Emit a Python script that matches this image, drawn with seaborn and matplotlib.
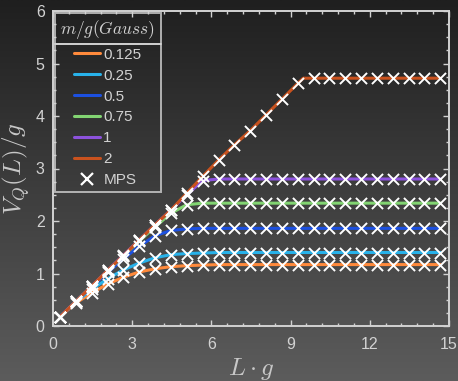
import numpy as np
import pandas as pd
import matplotlib
matplotlib.use("Agg")
import matplotlib.pyplot as plt
from matplotlib.colors import LinearSegmentedColormap
from matplotlib.lines import Line2D
from matplotlib.ticker import MultipleLocator
import seaborn as sns

# ---------------- data ----------------
L_mps = [0.27, 0.87, 1.47, 2.07, 2.67, 3.27, 3.87, 4.47, 5.07, 5.67, 6.27, 6.87,
         7.47, 8.07, 8.67, 9.27, 9.87, 10.47, 11.07, 11.67, 12.27, 12.87, 13.47,
         14.07, 14.67]

masses = ["0.125", "0.25", "0.5", "0.75", "1", "2"]

V_0125 = [0.18, 0.44, 0.63, 0.80, 0.93, 1.03, 1.09, 1.13, 1.15, 1.16] + [1.17] * 15
V_025 = [0.18, 0.46, 0.70, 0.90, 1.07, 1.20, 1.30, 1.36, 1.38, 1.39] + [1.40] * 15
V_05 = [0.18, 0.47, 0.75, 1.02, 1.28, 1.52, 1.72, 1.82, 1.85] + [1.86] * 16
V_075 = [0.18, 0.47, 0.76, 1.05, 1.34, 1.62, 1.89, 2.15, 2.31] + [2.34] * 16
V_1 = [0.18, 0.47, 0.76, 1.06, 1.35, 1.64, 1.93, 2.21, 2.50, 2.77] + [2.80] * 15
V_2 = [0.18, 0.47, 0.76, 1.06, 1.34, 1.64, 1.93, 2.21, 2.53, 2.85, 3.16, 3.45,
       3.72, 4.02, 4.32, 4.62] + [4.72] * 9

# string-breaking corner of the m/g=2 curve (line only)
corner_L_2 = 9.48
corner_V_2 = 4.72

series = [V_0125, V_025, V_05, V_075, V_1, V_2]
colors = ["#ff8a3c", "#28b2ea", "#1c50e0", "#82d472", "#8c52dc", "#c9521e"]

# line table
rows = []
for m, vals in zip(masses, series):
    Ls = list(L_mps)
    Vs = list(vals)
    if m == "2":
        Ls.append(corner_L_2)
        Vs.append(corner_V_2)
    for l, v in zip(Ls, Vs):
        rows.append({"L": l, "V": v, "m": m})
df_line = pd.DataFrame(rows).sort_values(["m", "L"])

mps_rows = []
for m, vals in zip(masses, series):
    for l, v in zip(L_mps, vals):
        mps_rows.append({"L": l, "V": v, "m": m})
df_mps = pd.DataFrame(mps_rows)

# ---------------- style ----------------
sns.set_theme(style="ticks")
plt.rcParams["font.family"] = ["Liberation Sans", "DejaVu Sans"]
plt.rcParams["mathtext.fontset"] = "cm"

fg = "#d2d2d2"

fig = plt.figure(figsize=(4.58, 3.81), dpi=100)

# gradient background
bg = fig.add_axes([0, 0, 1, 1], zorder=-10)
grad = np.linspace(0, 1, 256).reshape(-1, 1)
cmap = LinearSegmentedColormap.from_list("bg", ["#1f1f1f", "#5c5c5c"])
bg.imshow(grad, aspect="auto", cmap=cmap, extent=[0, 1, 0, 1], origin="upper")
bg.axis("off")

ax = fig.add_axes([53 / 458, 55 / 381, 396 / 458, 315 / 381])
ax.set_facecolor("none")

sns.lineplot(data=df_line, x="L", y="V", hue="m", hue_order=masses,
             palette=colors, sort=True, estimator=None, linewidth=2.2,
             legend=False, ax=ax, zorder=2)
sns.scatterplot(data=df_mps, x="L", y="V", marker="x", color="white",
                s=64, linewidth=1.4, legend=False, ax=ax, zorder=3)

ax.set_xlim(0, 15)
ax.set_ylim(0, 6)
ax.xaxis.set_major_locator(MultipleLocator(3))
ax.xaxis.set_minor_locator(MultipleLocator(0.6))
ax.yaxis.set_major_locator(MultipleLocator(1))
ax.yaxis.set_minor_locator(MultipleLocator(0.25))
ax.tick_params(which="both", direction="in", top=True, right=True,
               color=fg, labelcolor=fg, labelsize=11.5, width=1.0)
ax.tick_params(which="major", length=4.5)
ax.tick_params(axis="x", which="major", pad=8)
ax.tick_params(axis="y", which="major", pad=6)
ax.tick_params(which="minor", length=2.5)
for sp in ax.spines.values():
    sp.set_color(fg)
    sp.set_linewidth(1.4)

ax.set_xlabel(r"$L \cdot g$", fontsize=18, color="#c8c8c8", labelpad=3)
ax.set_ylabel(r"$V_Q(L)/g$", fontsize=18, color="#c8c8c8", labelpad=3)

handles = [Line2D([], [], color=c, lw=2.2) for c in colors]
handles.append(Line2D([], [], color="white", marker="x", ls="none",
                      markersize=9, markeredgewidth=1.6))
labels = masses + ["MPS"]
leg = ax.legend(handles, labels, title=r"$m/g(Gauss)$", loc="upper left",
                bbox_to_anchor=(0.005, 0.995), borderaxespad=0.0,
                fontsize=11, title_fontsize=12.5, frameon=True,
                fancybox=False, handlelength=1.7, handletextpad=0.2,
                labelspacing=0.45, borderpad=0.35, labelcolor=fg)
leg.get_title().set_color(fg)
fr = leg.get_frame()
fr.set_facecolor("none")
fr.set_edgecolor(fg)
fr.set_linewidth(1.4)

# separator line under the legend title
fig.canvas.draw()
lb = leg.get_window_extent()
tb = leg.get_title().get_window_extent()
ysep = tb.y0 - 3
inv = fig.transFigure.inverted()
(x0, y0), (x1, _) = inv.transform([(lb.x0, ysep), (lb.x1, ysep)])
fig.add_artist(Line2D([x0, x1], [y0, y0], transform=fig.transFigure,
                      color=fg, lw=1.4, zorder=5))

fig.savefig("out.png", dpi=100)
